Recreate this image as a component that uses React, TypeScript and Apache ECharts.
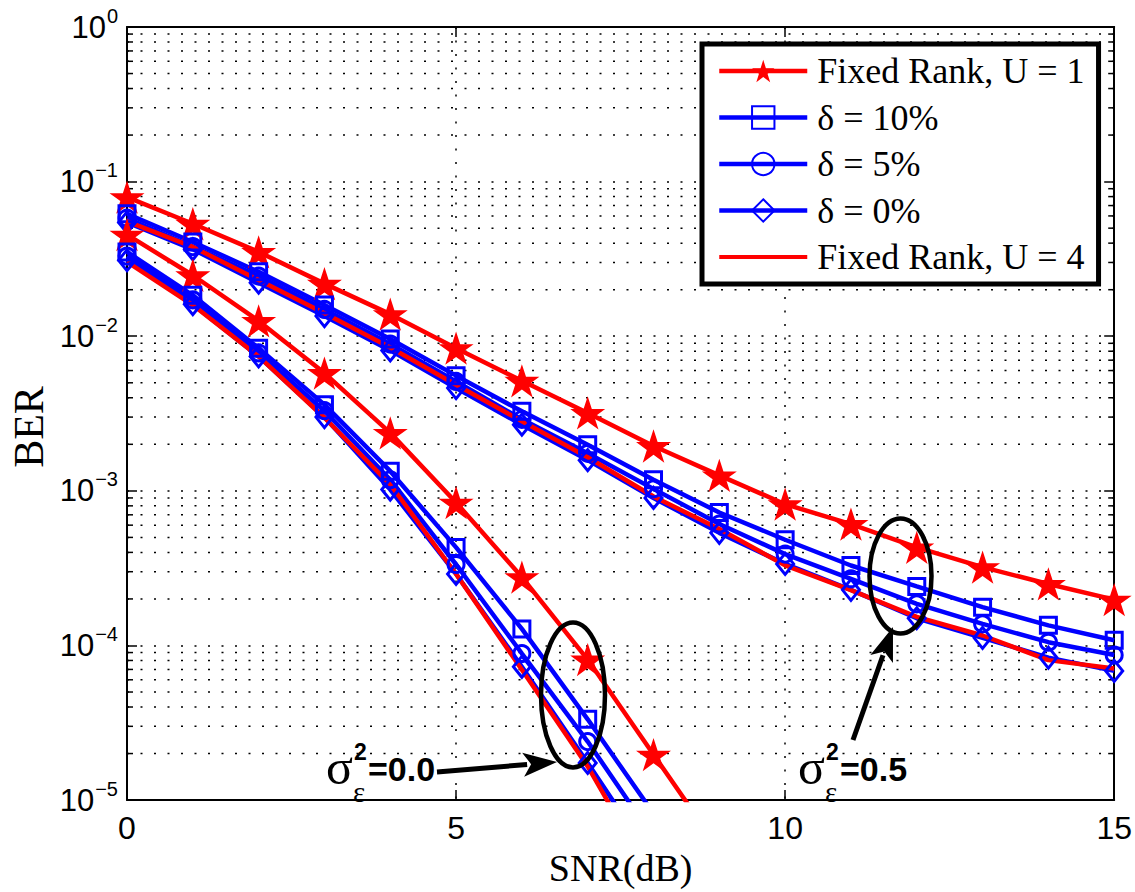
import React, { useEffect, useRef } from "react";
import * as echarts from "echarts";

// ---------- data ----------
const snrHigh = [0, 1, 2, 3, 4, 5, 6, 7, 8, 9, 10, 11, 12, 13, 14, 15];
const snrLow = [0, 1, 2, 3, 4, 5, 6, 7, 8, 9];

// sigma_e^2 = 0.5
const u1Sigma05 = [0.0794, 0.0534, 0.0351, 0.0219, 0.0139, 0.00837, 0.00515, 0.00319, 0.00195, 0.00126, 0.00082, 0.00061, 0.000431, 0.000321, 0.00025, 0.000198];
const d10Sigma05 = [0.0619, 0.0407, 0.0261, 0.0159, 0.0096, 0.00556, 0.00327, 0.00199, 0.00118, 0.000725, 0.000483, 0.000329, 0.000241, 0.000177, 0.000135, 0.000108];
const d5Sigma05 = [0.058, 0.038, 0.0245, 0.0149, 0.0089, 0.0051, 0.0029, 0.00175, 0.00103, 0.00061, 0.00039, 0.00027, 0.000186, 0.000138, 0.000105, 0.0000867];
const d0Sigma05 = [0.0545, 0.0365, 0.0222, 0.0135, 0.0081, 0.00462, 0.00268, 0.00158, 0.0009, 0.000535, 0.000337, 0.000229, 0.00015, 0.000112, 0.0000835, 0.0000685];
const u4Sigma05 = [0.0553, 0.0378, 0.0231, 0.0141, 0.00846, 0.00486, 0.00282, 0.00165, 0.00092, 0.000566, 0.00033, 0.000228, 0.000153, 0.000116, 0.0000804, 0.000071];

// sigma_e^2 = 0.0
const u1Sigma0 = [0.0454, 0.0248, 0.01256, 0.00578, 0.00237, 0.00084, 0.000277, 0.0000811, 0.0000197, 0.0000048];
const d10Sigma0 = [0.0351, 0.0184, 0.00837, 0.00361, 0.00134, 0.000431, 0.000128, 0.0000333, 0.0000082];
const d5Sigma0 = [0.033, 0.0172, 0.0078, 0.0033, 0.00118, 0.000334, 0.0000887, 0.0000239, 0.0000057];
const d0Sigma0 = [0.031, 0.0161, 0.0074, 0.003, 0.00102, 0.00029, 0.0000728, 0.0000174, 0.000004];
const u4Sigma0 = [0.0303, 0.0159, 0.0074, 0.00297, 0.0011, 0.00029, 0.0000697, 0.0000165, 0.000003];

const seriesNames = ["Fixed Rank, U = 1", "δ = 10%", "δ = 5%", "δ = 0%", "Fixed Rank, U = 4"];
const xTicks = [0, 5, 10, 15];
const decades = [1e-5, 1e-4, 1e-3, 1e-2, 1e-1];
const minorMultipliers = [2, 3, 4, 5, 6, 7, 8, 9];

const RED = "#ff0000";
const BLUE = "#0000ff";
const LINE_W = 4.5;
const STAR =
  "path://M50 0 L61.23 34.55 L97.55 34.55 L68.17 55.9 L79.39 90.45 L50 69.1 L20.61 90.45 L31.83 55.9 L2.45 34.55 L38.77 34.55 Z";
const BAR_ICON = "path://M0 0 L0.05 0 L0 0.05 Z M0 11.75 L100 11.75 L100 16.25 L0 16.25 Z M0 28 L0.05 28 L0 27.95 Z";

const pairs = (xs: number[], ys: number[]) => ys.map((y, i) => [xs[i], y]);

function lineSeries(name: string, xs: number[], ys: number[], kind: string) {
  const base: any = {
    type: "line",
    name,
    data: pairs(xs, ys),
    clip: true,
    silent: true,
    z: 5,
    emphasis: { disabled: true },
  };
  if (kind === "star") {
    return {
      ...base,
      symbol: STAR,
      symbolSize: 35,
      symbolKeepAspect: true,
      lineStyle: { color: RED, width: LINE_W },
      itemStyle: { color: RED, borderWidth: 0 },
    };
  }
  if (kind === "none") {
    return {
      ...base,
      symbol: "none",
      showSymbol: false,
      lineStyle: { color: RED, width: LINE_W },
      itemStyle: { color: RED },
    };
  }
  const sym = kind === "rect" ? "rect" : kind === "circle" ? "circle" : "diamond";
  const size = kind === "diamond" ? [17, 21] : 16;
  return {
    ...base,
    symbol: sym,
    symbolSize: size,
    lineStyle: { color: BLUE, width: LINE_W },
    itemStyle: { color: "rgba(255,255,255,0)", borderColor: BLUE, borderWidth: 3 },
  };
}

function arrow(tail: number[], tip: number[], headLen: number, headHalf: number) {
  const dx = tip[0] - tail[0];
  const dy = tip[1] - tail[1];
  const len = Math.sqrt(dx * dx + dy * dy);
  const ux = dx / len;
  const uy = dy / len;
  const bx = tip[0] - ux * headLen;
  const by = tip[1] - uy * headLen;
  const px = -uy;
  const py = ux;
  return [
    {
      type: "line",
      z: 100,
      shape: { x1: tail[0], y1: tail[1], x2: bx + ux * 4, y2: by + uy * 4 },
      style: { stroke: "#000", lineWidth: 5 },
    },
    {
      type: "polygon",
      z: 100,
      shape: {
        points: [
          [tip[0], tip[1]],
          [bx + px * headHalf, by + py * headHalf],
          [bx + ux * 8, by + uy * 8],
          [bx - px * headHalf, by - py * headHalf],
        ],
      },
      style: { fill: "#000" },
    },
  ];
}

function sigmaLabel(x: number, value: string) {
  return [
    {
      type: "text",
      z: 100,
      x,
      y: 767,
      style: { text: "σ", font: "50px 'Liberation Serif'", fill: "#000", align: "left", verticalAlign: "middle" },
    },
    {
      type: "text",
      z: 100,
      x: x + 28,
      y: 752,
      style: { text: "2", font: "bold 23px 'Liberation Sans'", fill: "#000", align: "left", verticalAlign: "middle" },
    },
    {
      type: "text",
      z: 100,
      x: x + 27,
      y: 792,
      style: { text: "ε", font: "29px 'Liberation Serif'", fill: "#000", align: "left", verticalAlign: "middle" },
    },
    {
      type: "text",
      z: 100,
      x: x + 42,
      y: 769,
      style: { text: value, font: "bold 34px 'Liberation Sans'", fill: "#000", align: "left", verticalAlign: "middle" },
    },
  ];
}

export default function App() {
  const ref = useRef<HTMLDivElement>(null);

  useEffect(() => {
    if (!ref.current) return;
    const chart = echarts.init(ref.current, undefined, { renderer: "svg" });

    const minorValues: number[][] = [];
    decades.forEach((d) => minorMultipliers.forEach((m) => minorValues.push([0, m * d])));

    const dotted = { color: "#000", width: 1.5, type: [2, 11.5] as any };

    const option: any = {
      animation: false,
      backgroundColor: "#fff",
      grid: { left: 127, right: 18, top: 27, bottom: 88, containLabel: false },
      legend: {
        data: seriesNames.map((n, i) => (i === 4 ? { name: n, icon: BAR_ICON } : { name: n })),
        orient: "vertical",
        left: 702,
        top: 44,
        padding: [9, 14, 9, 15],
        itemWidth: 88,
        itemHeight: 28,
        itemGap: 10.5,
        borderColor: "#000",
        borderWidth: 5,
        backgroundColor: "#fff",
        selectedMode: false,
        z: 50,
        lineStyle: { width: LINE_W },
        textStyle: { fontFamily: "'Liberation Serif'", fontSize: 36, color: "#000", padding: [0, 0, 0, 5] },
      },
      xAxis: [
        {
          type: "value",
          min: 0,
          max: 15,
          interval: 5,
          position: "bottom",
          name: "SNR(dB)",
          nameLocation: "middle",
          nameGap: 48,
          nameTextStyle: { fontFamily: "'Liberation Serif'", fontSize: 38, color: "#000" },
          axisLine: { show: true, onZero: false, lineStyle: { color: "#000", width: 2 } },
          axisTick: { show: true, inside: true, length: 10, lineStyle: { color: "#000", width: 1.5 } },
          axisLabel: {
            margin: 12,
            fontFamily: "'Liberation Sans'",
            fontSize: 32,
            color: "#000",
            formatter: (v: number) => (xTicks.includes(v) ? String(v) : ""),
          },
          splitLine: { show: true, lineStyle: dotted },
        },
        {
          type: "value",
          min: 0,
          max: 15,
          interval: 5,
          position: "top",
          axisLine: { show: true, onZero: false, lineStyle: { color: "#000", width: 2 } },
          axisTick: { show: true, inside: true, length: 10, lineStyle: { color: "#000", width: 1.5 } },
          axisLabel: { show: false },
          splitLine: { show: false },
        },
      ],
      yAxis: [
        {
          type: "log",
          logBase: 10,
          min: 1e-5,
          max: 1,
          position: "left",
          axisLine: { show: true, onZero: false, lineStyle: { color: "#000", width: 2 } },
          axisTick: { show: true, inside: true, length: 10, lineStyle: { color: "#000", width: 1.5 } },
          axisLabel: {
            margin: 9,
            formatter: (v: number) => {
              const e = Math.round(Math.log10(v));
              return `{b|10}{e|${e === 0 ? "0" : "−" + Math.abs(e)}}`;
            },
            rich: {
              b: { fontFamily: "'Liberation Sans'", fontSize: 31, lineHeight: 31, color: "#000", verticalAlign: "bottom" },
              e: {
                fontFamily: "'Liberation Sans'",
                fontSize: 20,
                lineHeight: 20,
                color: "#000",
                verticalAlign: "bottom",
                padding: [0, 0, 17, 1],
              },
            },
          },
          splitLine: { show: true, lineStyle: dotted },
        },
        {
          type: "log",
          logBase: 10,
          min: 1e-5,
          max: 1,
          position: "right",
          axisLine: { show: true, onZero: false, lineStyle: { color: "#000", width: 2 } },
          axisTick: { show: true, inside: true, length: 10, lineStyle: { color: "#000", width: 1.5 } },
          axisLabel: { show: false },
          splitLine: { show: false },
        },
      ],
      series: [
        {
          type: "custom",
          name: "minor-grid",
          silent: true,
          z: 1,
          data: minorValues,
          encode: { x: 0, y: 1 },
          renderItem: (params: any, api: any) => {
            const y = api.coord([0, api.value(1)])[1];
            const cs = params.coordSys;
            return {
              type: "group",
              children: [
                {
                  type: "line",
                  shape: { x1: cs.x, y1: y, x2: cs.x + cs.width, y2: y },
                  style: { stroke: "#000", lineWidth: 1.5, lineDash: [2, 11.5] },
                },
                {
                  type: "line",
                  shape: { x1: cs.x, y1: y, x2: cs.x + 6, y2: y },
                  style: { stroke: "#000", lineWidth: 1.5 },
                },
                {
                  type: "line",
                  shape: { x1: cs.x + cs.width - 6, y1: y, x2: cs.x + cs.width, y2: y },
                  style: { stroke: "#000", lineWidth: 1.5 },
                },
              ],
            };
          },
        },
        lineSeries(seriesNames[0], snrHigh, u1Sigma05, "star"),
        lineSeries(seriesNames[1], snrHigh, d10Sigma05, "rect"),
        lineSeries(seriesNames[2], snrHigh, d5Sigma05, "circle"),
        lineSeries(seriesNames[3], snrHigh, d0Sigma05, "diamond"),
        lineSeries(seriesNames[4], snrHigh, u4Sigma05, "none"),
        lineSeries(seriesNames[0], snrLow, u1Sigma0, "star"),
        lineSeries(seriesNames[1], snrLow.slice(0, d10Sigma0.length), d10Sigma0, "rect"),
        lineSeries(seriesNames[2], snrLow.slice(0, d5Sigma0.length), d5Sigma0, "circle"),
        lineSeries(seriesNames[3], snrLow.slice(0, d0Sigma0.length), d0Sigma0, "diamond"),
        lineSeries(seriesNames[4], snrLow.slice(0, u4Sigma0.length), u4Sigma0, "none"),
      ],
      graphic: [
        {
          type: "text",
          z: 100,
          x: 29,
          y: 427,
          rotation: Math.PI / 2,
          style: { text: "BER", font: "42px 'Liberation Serif'", fill: "#000", align: "center", verticalAlign: "middle" },
        },
        {
          type: "ellipse",
          z: 100,
          shape: { cx: 573, cy: 695, rx: 32, ry: 72.5 },
          style: { fill: "none", stroke: "#000", lineWidth: 4.5 },
        },
        {
          type: "ellipse",
          z: 100,
          shape: { cx: 900.5, cy: 576, rx: 31, ry: 57.5 },
          style: { fill: "none", stroke: "#000", lineWidth: 4.5 },
        },
        ...arrow([437, 772], [557, 762], 34, 12),
        ...arrow([853, 740], [893, 627], 34, 12),
        ...sigmaLabel(326, "=0.0"),
        ...sigmaLabel(798, "=0.5"),
      ],
    };

    chart.setOption(option);
    return () => chart.dispose();
  }, []);

  return (
    <div
      ref={ref}
      style={{ position: "fixed", left: 0, top: 0, width: 1135, height: 892, background: "#fff" }}
    />
  );
}
